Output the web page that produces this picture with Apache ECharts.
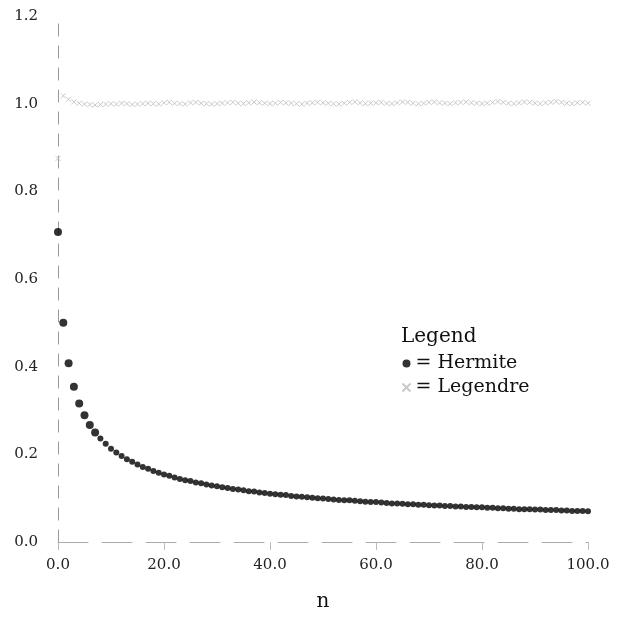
<!DOCTYPE html>
<html>
<head>
<meta charset="utf-8">
<script src="https://cdn.jsdelivr.net/npm/echarts@6/dist/echarts.min.js"></script>
<style>
  html, body { margin: 0; padding: 0; background: #fff; }
  #main { width: 626px; height: 617px; }
</style>
</head>
<body>
<div id="main"></div>
<script>
// n = 0 .. 100
var nValues = [];
for (var i = 0; i <= 100; i++) nValues.push(i);

var hermite = [
  0.707, 0.500, 0.408, 0.354, 0.316, 0.289, 0.267, 0.250, 0.236, 0.224,
  0.213, 0.204, 0.196, 0.189, 0.183, 0.177, 0.171, 0.167, 0.162, 0.158,
  0.154, 0.151, 0.147, 0.144, 0.141, 0.139, 0.136, 0.134, 0.131, 0.129,
  0.127, 0.125, 0.123, 0.121, 0.120, 0.118, 0.116, 0.115, 0.113, 0.112,
  0.110, 0.109, 0.108, 0.107, 0.105, 0.104, 0.103, 0.102, 0.101, 0.100,
  0.099, 0.098, 0.097, 0.096, 0.095, 0.095, 0.094, 0.093, 0.092, 0.091,
  0.091, 0.090, 0.089, 0.088, 0.088, 0.087, 0.086, 0.086, 0.085, 0.085,
  0.084, 0.083, 0.083, 0.082, 0.082, 0.081, 0.081, 0.080, 0.080, 0.079,
  0.079, 0.078, 0.078, 0.077, 0.077, 0.076, 0.076, 0.075, 0.075, 0.075,
  0.074, 0.074, 0.073, 0.073, 0.073, 0.072, 0.072, 0.071, 0.071, 0.071,
  0.070
];

var legendre = [
  0.875, 1.018, 1.010, 1.004, 1.001, 0.999, 0.998, 0.997, 0.998, 0.999,
  1.000, 0.999, 1.001, 1.000, 0.998, 0.999, 1.000, 1.001, 1.000, 0.999,
  1.002, 1.003, 1.001, 1.000, 0.999, 1.002, 1.003, 1.001, 1.000, 0.999,
  1.000, 1.001, 1.002, 1.003, 1.001, 1.000, 1.002, 1.004, 1.002, 1.001,
  1.000, 1.001, 1.003, 1.002, 1.001, 1.000, 0.999, 1.001, 1.002, 1.003,
  1.002, 1.001, 1.000, 0.999, 1.001, 1.003, 1.004, 1.002, 1.000, 1.001,
  1.002, 1.003, 1.001, 1.000, 1.002, 1.004, 1.003, 1.001, 1.000, 1.001,
  1.003, 1.004, 1.002, 1.001, 1.000, 1.002, 1.003, 1.004, 1.002, 1.001,
  1.000, 1.001, 1.003, 1.005, 1.003, 1.001, 1.000, 1.002, 1.004, 1.003,
  1.001, 1.000, 1.002, 1.003, 1.005, 1.003, 1.001, 1.000, 1.002, 1.003,
  1.001
];

function pairs(ys) {
  return nValues.map(function (n, i) { return [n, ys[i]]; });
}

var serif = 'DejaVu Serif';
var crossPath = 'path://M0,0L10,10M10,0L0,10';

var myChart = echarts.init(document.getElementById('main'));

var option = {
  backgroundColor: '#fff',
  animation: false,
  title: {
    text: 'Legend',
    left: 396,
    top: 322,
    textStyle: { fontFamily: serif, fontSize: 20, fontWeight: 'normal', color: '#111' }
  },
  legend: {
    orient: 'vertical',
    left: 395,
    top: 349,
    itemWidth: 8,
    itemHeight: 8,
    itemGap: 5,
    formatter: function (name) { return '= ' + name; },
    textStyle: { fontFamily: serif, fontSize: 19, color: '#111' },
    data: ['Hermite', 'Legendre']
  },
  grid: { left: 58, right: 38, top: 16, bottom: 63 },
  xAxis: {
    type: 'value',
    min: 0,
    max: 100,
    interval: 20,
    name: 'n',
    nameLocation: 'middle',
    nameGap: 50,
    nameTextStyle: { fontFamily: serif, fontSize: 20, color: '#111' },
    splitLine: { show: false },
    axisLine: { lineStyle: { color: '#aaa', type: [30, 14], width: 1 } },
    axisTick: { show: true, length: 8, lineStyle: { color: '#bbb' } },
    axisLabel: {
      fontFamily: serif, fontSize: 15, color: '#222', margin: 16,
      formatter: function (v) { return v.toFixed(1); }
    }
  },
  yAxis: {
    type: 'value',
    min: 0,
    max: 1.2,
    interval: 0.2,
    offset: 4,
    splitLine: { show: false },
    axisLine: { show: true, lineStyle: { color: '#999', type: [12, 10], width: 1 } },
    axisTick: { show: false },
    axisLabel: {
      fontFamily: serif, fontSize: 15, color: '#222', margin: 16,
      formatter: function (v) { return v.toFixed(1); }
    }
  },
  series: [
    {
      name: 'Hermite',
      type: 'scatter',
      data: pairs(hermite),
      symbol: 'circle',
      symbolSize: function (v, p) { return p.dataIndex < 8 ? 8 : 6; },
      itemStyle: { color: '#000' },
      z: 3
    },
    {
      name: 'Legendre',
      type: 'scatter',
      data: pairs(legendre),
      symbol: crossPath,
      symbolSize: 5,
      itemStyle: { color: 'none', borderColor: '#bbb', borderWidth: 1 },
      z: 2
    }
  ]
};

myChart.setOption(option);
</script>
</body>
</html>
